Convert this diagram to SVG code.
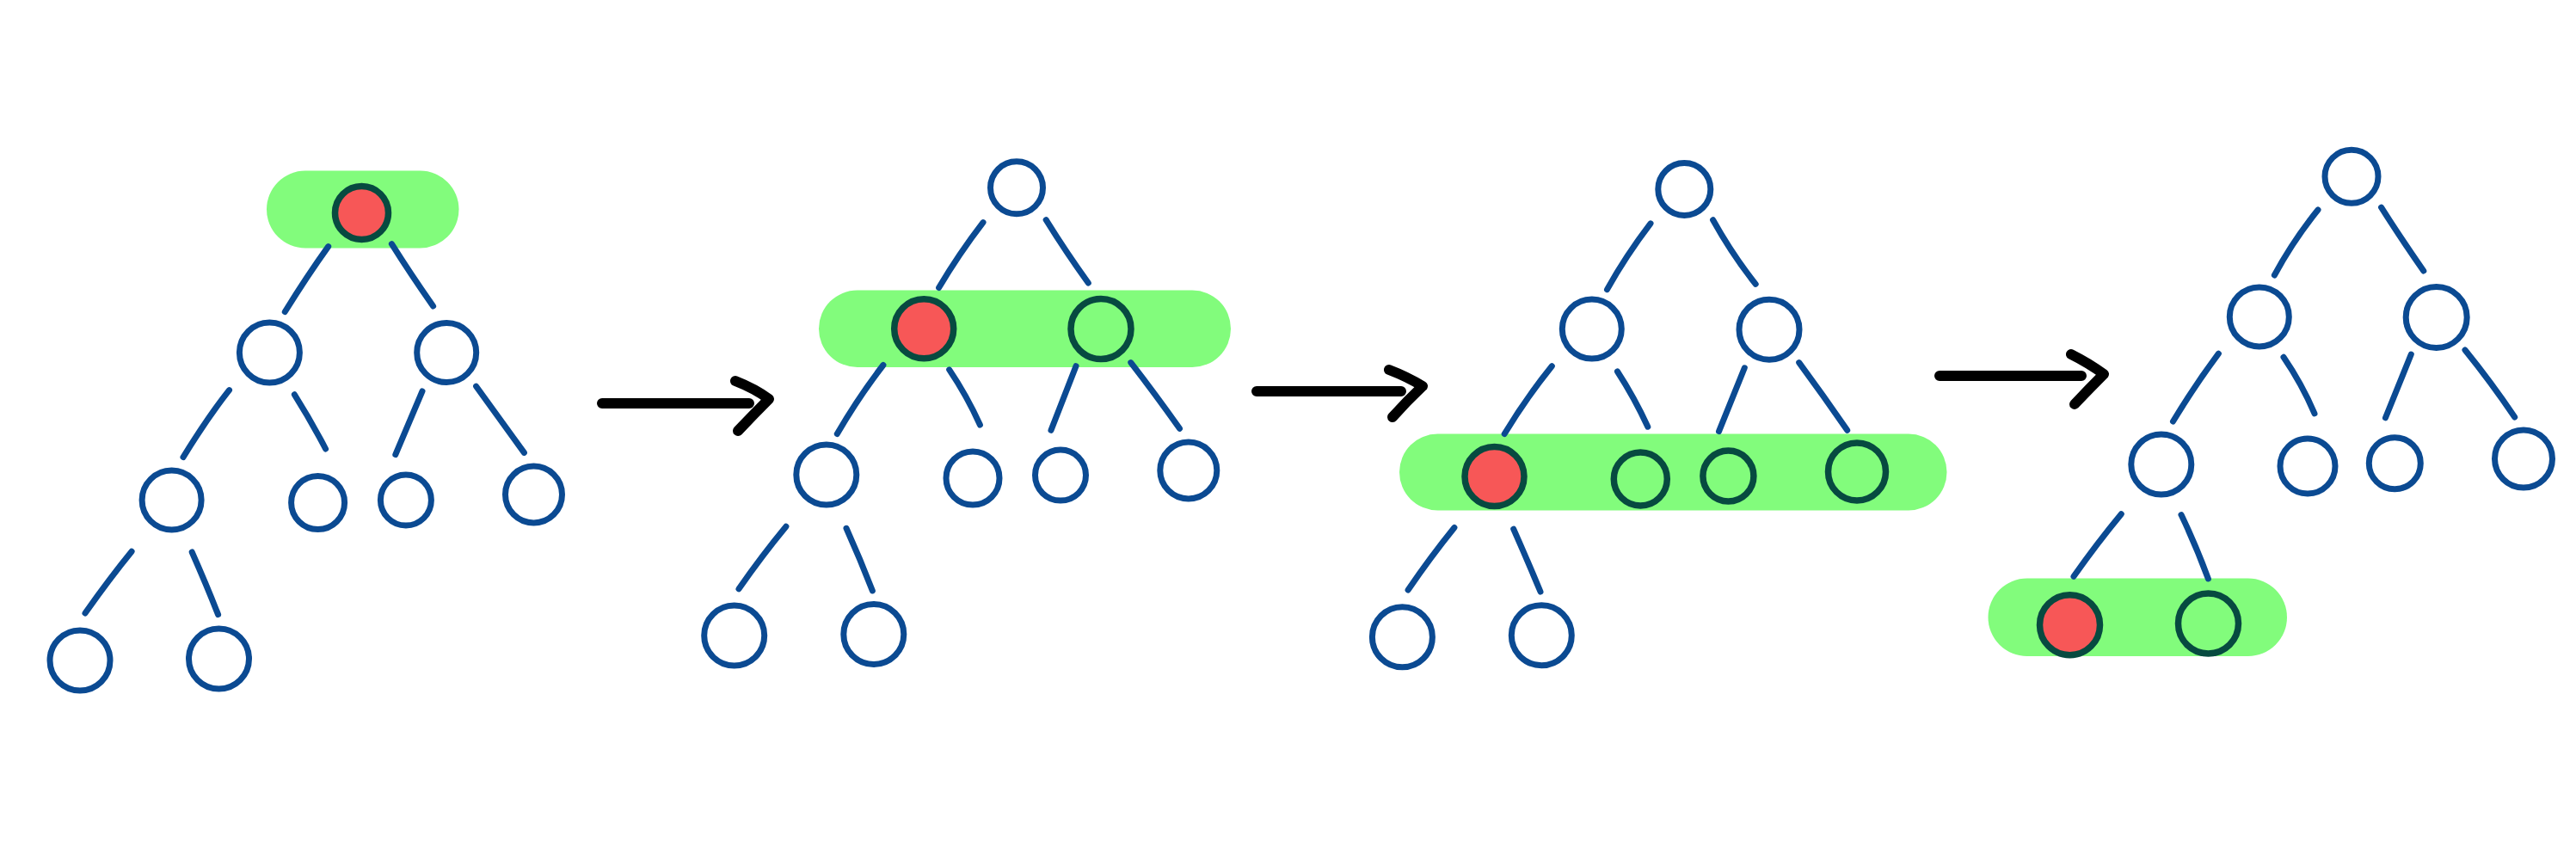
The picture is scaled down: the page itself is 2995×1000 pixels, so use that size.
<svg xmlns="http://www.w3.org/2000/svg" width="2995" height="1000" viewBox="0 0 2995 1000">
<style>
.n{fill:none;stroke:#0b4a92;stroke-width:7}
.h{fill:none;stroke:#074a40;stroke-width:7.5}
.r{fill:#f75757;stroke:#074a40;stroke-width:7.5}
.p{fill:#82fc7c}
.e{fill:none;stroke:#0b4a92;stroke-width:7;stroke-linecap:round;stroke-linejoin:round}
.a{fill:none;stroke:#000;stroke-width:12;stroke-linecap:round;stroke-linejoin:round}
</style>
<rect width="2995" height="1000" fill="#fff"/>
<g id="highlights">
<rect class="p" x="310" y="198.5" width="223.5" height="90" rx="45"/>
<rect class="p" x="952" y="337.5" width="479" height="89.5" rx="44.75"/>
<rect class="p" x="1627" y="504.5" width="636.5" height="89" rx="44.5"/>
<rect class="p" x="2311.5" y="672.5" width="347.5" height="90.5" rx="45.25"/>
</g>
<g id="connectors">
<path class="e" d="M381.7,286.6 Q357,321 331.3,362.5"/>
<path class="e" d="M455.4,283.6 Q477,318 503.6,356"/>
<path class="e" d="M266.5,453.6 Q241,486 213,531.6"/>
<path class="e" d="M342.4,458.8 Q362,490 378.6,522"/>
<path class="e" d="M491,454.9 L459.8,528.6"/>
<path class="e" d="M553.6,449.2 Q580,486 609.4,526.4"/>
<path class="e" d="M153.1,641.3 Q128,672 99,713"/>
<path class="e" d="M223.2,642 Q240,680 253.6,714.6"/>
<path class="e" d="M1143,258.6 Q1115,295 1091.6,334.5"/>
<path class="e" d="M1216.2,255.7 Q1240,294 1265.3,329"/>
<path class="e" d="M1026.9,424.5 Q998,462 973.3,504.5"/>
<path class="e" d="M1103.7,429.9 Q1124,460 1139.4,494"/>
<path class="e" d="M1251,425.7 L1222,500.3"/>
<path class="e" d="M1314.8,421.6 Q1343,458 1371.5,498.3"/>
<path class="e" d="M913.9,612.3 Q886,646 859,684.8"/>
<path class="e" d="M984,614.3 Q1000,650 1014.4,686.9"/>
<path class="e" d="M1919,259.9 Q1890,298 1868.5,336.6"/>
<path class="e" d="M1991.6,255.7 Q2014,296 2041.2,330.3"/>
<path class="e" d="M1804.3,425.7 Q1775,462 1749.2,504.5"/>
<path class="e" d="M1880.5,432 Q1900,462 1915.8,496.2"/>
<path class="e" d="M2028.3,427.8 L1998.5,501.6"/>
<path class="e" d="M2091.7,421.6 Q2120,460 2147.7,500.3"/>
<path class="e" d="M1690.9,613.5 Q1663,648 1637.1,686"/>
<path class="e" d="M1759.7,615.2 Q1776,652 1791,688"/>
<path class="e" d="M2695,244 Q2666,280 2644.4,320"/>
<path class="e" d="M2768.6,241.2 Q2792,278 2817.8,315"/>
<path class="e" d="M2579.4,411.2 Q2552,448 2526.5,490"/>
<path class="e" d="M2655,415.3 Q2676,446 2691,480.8"/>
<path class="e" d="M2803.3,412 L2773.5,485.8"/>
<path class="e" d="M2866,407 Q2896,444 2923.7,485"/>
<path class="e" d="M2466.3,597.8 Q2438,632 2411,670.3"/>
<path class="e" d="M2536,598.6 Q2553,634 2567.4,673"/>
<path class="a" d="M700,469 L871,469 M855,443 Q878,452 894,464 Q876,482 858,501"/>
<path class="a" d="M1461,455 L1629,455 M1615,430 Q1636,438 1654,449 Q1636,466 1619,485"/>
<path class="a" d="M2255,437 L2420,437 M2408,412 Q2428,422 2446,435 Q2429,452 2412,470"/>
</g>
<g id="t1n0"><circle class="r" cx="420.5" cy="247.5" r="31"/></g>
<g id="t1n1"><circle class="n" cx="313.4" cy="410" r="35"/></g>
<g id="t1n2"><circle class="n" cx="519.2" cy="410" r="34.5"/></g>
<g id="t1n3"><circle class="n" cx="199.6" cy="581.5" r="34.5"/></g>
<g id="t1n4"><circle class="n" cx="369.6" cy="584.5" r="31"/></g>
<g id="t1n5"><circle class="n" cx="471.9" cy="581.5" r="29.5"/></g>
<g id="t1n6"><circle class="n" cx="620.5" cy="575" r="33"/></g>
<g id="t1n7"><circle class="n" cx="93" cy="768" r="35"/></g>
<g id="t1n8"><circle class="n" cx="254.5" cy="766" r="35"/></g>
<g id="t2n0"><circle class="n" cx="1182" cy="218.3" r="30.5"/></g>
<g id="t2n1"><circle class="r" cx="1074.2" cy="382.2" r="34.5"/></g>
<g id="t2n2"><circle class="h" cx="1280" cy="382.5" r="35"/></g>
<g id="t2n3"><circle class="n" cx="960.8" cy="552" r="35"/></g>
<g id="t2n4"><circle class="n" cx="1131" cy="556" r="31"/></g>
<g id="t2n5"><circle class="n" cx="1233" cy="552.6" r="29.5"/></g>
<g id="t2n6"><circle class="n" cx="1381.8" cy="547" r="33"/></g>
<g id="t2n7"><circle class="n" cx="853.7" cy="739" r="35"/></g>
<g id="t2n8"><circle class="n" cx="1015.8" cy="737.5" r="35"/></g>
<g id="t3n0"><circle class="n" cx="1958.3" cy="220" r="30.5"/></g>
<g id="t3n1"><circle class="n" cx="1850.8" cy="382.6" r="34.5"/></g>
<g id="t3n2"><circle class="n" cx="2057" cy="383.3" r="35"/></g>
<g id="t3n3"><circle class="r" cx="1737.5" cy="554" r="34.5"/></g>
<g id="t3n4"><circle class="h" cx="1907.3" cy="557" r="31"/></g>
<g id="t3n5"><circle class="h" cx="2009.4" cy="553.6" r="29.5"/></g>
<g id="t3n6"><circle class="h" cx="2159" cy="548.4" r="33.5"/></g>
<g id="t3n7"><circle class="n" cx="1630.4" cy="740.8" r="35"/></g>
<g id="t3n8"><circle class="n" cx="1792.3" cy="738.7" r="35"/></g>
<g id="t4n0"><circle class="n" cx="2734" cy="205.3" r="31"/></g>
<g id="t4n1"><circle class="n" cx="2626.8" cy="368.4" r="34.5"/></g>
<g id="t4n2"><circle class="n" cx="2832.7" cy="369" r="35.5"/></g>
<g id="t4n3"><circle class="n" cx="2512.8" cy="540" r="35"/></g>
<g id="t4n4"><circle class="n" cx="2683" cy="542" r="32"/></g>
<g id="t4n5"><circle class="n" cx="2784.3" cy="538.7" r="30"/></g>
<g id="t4n6"><circle class="n" cx="2934" cy="533.5" r="33.5"/></g>
<g id="t4n7"><circle class="r" cx="2406.5" cy="726.7" r="35"/></g>
<g id="t4n8"><circle class="h" cx="2567.5" cy="725" r="35"/></g>
</svg>
